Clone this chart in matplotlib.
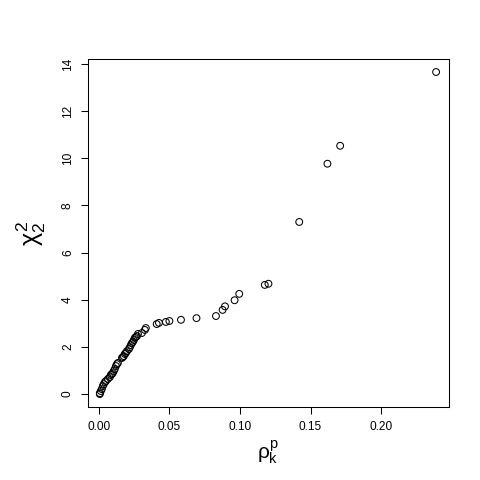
import numpy as np
import matplotlib.pyplot as plt

plt.rcParams['font.family'] = ['Liberation Sans', 'DejaVu Sans']
plt.rcParams['mathtext.fontset'] = 'custom'
plt.rcParams['mathtext.rm'] = 'Liberation Sans'
plt.rcParams['mathtext.it'] = 'Liberation Sans'

# rho_k^p values (x) and chi-square quantiles (y)
rho = [0.0007, 0.0007, 0.0014, 0.0021, 0.0028, 0.0035, 0.0043, 0.0050,
       0.0064, 0.0078, 0.0085, 0.0092, 0.0099, 0.0106, 0.0113, 0.0121,
       0.0128, 0.0135, 0.0163, 0.0170, 0.0177, 0.0184, 0.0191, 0.0199,
       0.0213, 0.0220, 0.0227, 0.0234, 0.0241, 0.0248, 0.0255, 0.0262,
       0.0270, 0.0277, 0.0305, 0.0326, 0.0333,
       0.0410, 0.0426, 0.0475, 0.0500, 0.0582, 0.0692, 0.0830, 0.0877,
       0.0894, 0.0962, 0.0995, 0.1176, 0.1202, 0.1420, 0.1620, 0.1710,
       0.2390]
chi2 = [0.00, 0.04, 0.13, 0.21, 0.34, 0.42, 0.51, 0.55,
        0.64, 0.72, 0.81, 0.85, 0.89, 0.98, 1.06, 1.19,
        1.27, 1.32, 1.53, 1.57, 1.61, 1.70, 1.74, 1.82,
        1.91, 1.99, 2.08, 2.16, 2.21, 2.29, 2.38, 2.42,
        2.46, 2.55, 2.59, 2.72, 2.80,
        2.97, 3.02, 3.06, 3.10, 3.15, 3.22, 3.31, 3.57,
        3.72, 3.98, 4.25, 4.63, 4.68, 7.30, 9.77, 10.53,
        13.66]

fig = plt.figure(figsize=(4.8, 4.8), dpi=100)
ax = fig.add_axes([0.183, 0.152, 0.752, 0.725])

ax.scatter(rho, chi2, s=24, facecolors='none', edgecolors='black', linewidths=0.75)

ax.set_xlim(-0.0078, 0.248)
ax.set_ylim(-0.55, 14.21)
ax.set_xticks([0.00, 0.05, 0.10, 0.15, 0.20])
ax.set_xticklabels(['0.00', '0.05', '0.10', '0.15', '0.20'])
ax.set_yticks(range(0, 15, 2))
ax.tick_params(axis='both', direction='out', length=5, width=0.75, labelsize=8.6, pad=5)
for lab in ax.get_yticklabels():
    lab.set_rotation(90)
    lab.set_va('center')
for sp in ax.spines.values():
    sp.set_linewidth(0.75)

ax.set_xlabel(r'$\rho_k^p$', fontsize=15, labelpad=4)
ax.set_ylabel(r'$\chi_2^2$', fontsize=18, labelpad=10)

fig.savefig('out.png', dpi=100)
